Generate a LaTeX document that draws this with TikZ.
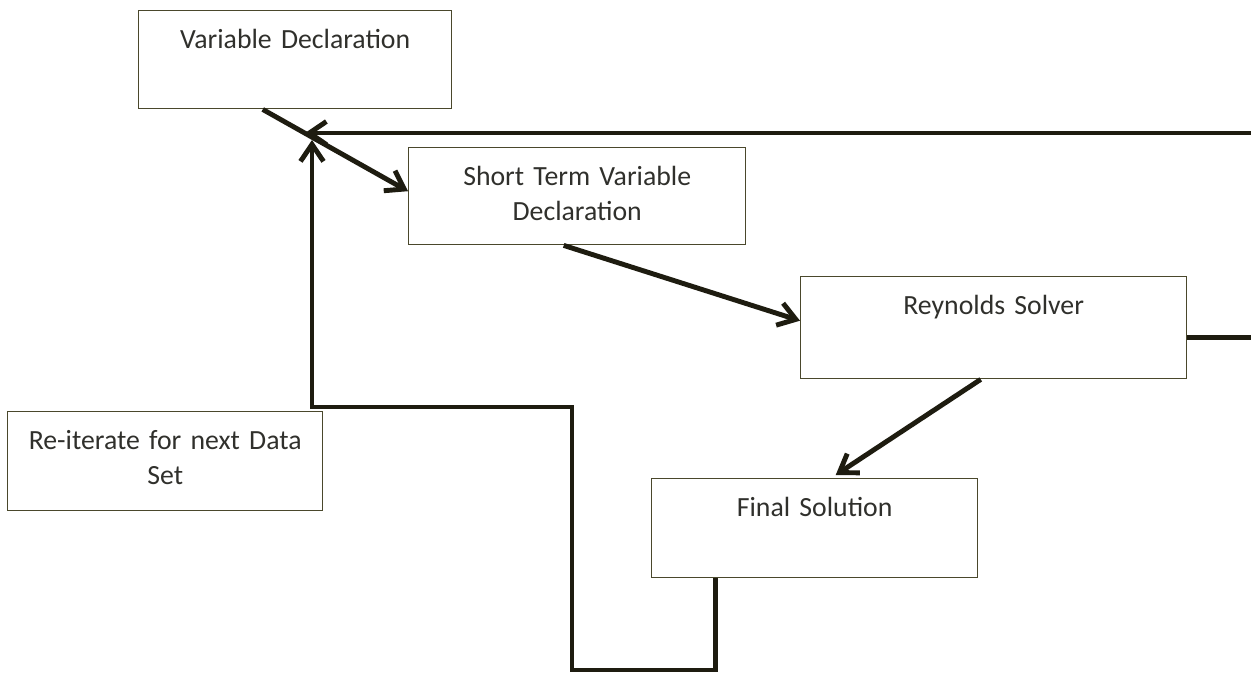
\documentclass[tikz,border=0pt]{standalone}
\usepackage{fontspec}
\setmainfont{Carlito}[WordSpace=0.8]
\usepackage{xcolor}
\usepackage{tikz}
\usetikzlibrary{arrows.meta, positioning, calc}
\definecolor{BoxLine}{RGB}{74, 72, 44}
\definecolor{FlowLine}{RGB}{30, 28, 16}
\definecolor{TextGray}{RGB}{48, 48, 44}

\begin{document}
\begin{tikzpicture}[
    font=\fontsize{15.8}{20}\selectfont,
    box/.style={rectangle, draw=BoxLine, line width=0.8pt, anchor=north west, inner xsep=2pt, inner ysep=0pt, align=center, text=TextGray, text height=0.76cm},
    flow/.style={-{Straight Barb[length=0.34cm, width=0.46cm]}, line width=2.8pt, color=FlowLine},
    feed/.style={line width=2.8pt, color=FlowLine, -{Straight Barb[length=0.34cm, width=0.46cm]}}
]
    \useasboundingbox (0,0) rectangle (25.02,-13.5);
    \clip (0,0) rectangle (25.02,-13.5);

    % Boxes
    \node[box, minimum width=6.26cm, text width=6.1cm, text depth=1.2cm] (vardecl) at (2.76,-0.2) {Variable Declaration};
    \node[box, minimum width=6.74cm, text width=6.5cm, text depth=1.18cm] (shortterm) at (8.16,-2.94) {Short Term Variable\\Declaration};
    \node[box, minimum width=7.72cm, text width=7.5cm, text depth=1.28cm] (reynolds) at (16.0,-5.52) {Reynolds Solver};
    \node[box, minimum width=6.3cm, text width=6.1cm, text depth=1.22cm] (reiterate) at (0.14,-8.22) {Re-iterate for next Data\\Set};
    \node[box, minimum width=6.52cm, text width=6.3cm, text depth=1.22cm] (final) at (13.02,-9.56) {Final Solution};

    % Junction points
    \coordinate (merge) at (6.24,-2.66);
    \coordinate (low) at (11.44,-13.4);
    \coordinate (mid) at (11.44,-8.14);

    % Main chain
    \draw[flow] ([xshift=-0.65cm]vardecl.south) -- ([yshift=0.1cm]shortterm.west);
    \draw[flow] ([xshift=-0.27cm]shortterm.south) -- ([yshift=0.14cm]reynolds.west);
    \draw[flow] ([xshift=-0.26cm]reynolds.south) -- ([xshift=0.42cm, yshift=0.06cm]final.north);

    % Feedback loops
    \draw[feed] ([yshift=-0.2cm]reynolds.east) -- ++(1.6,0) |- ([xshift=-0.14cm]merge);
    \draw[feed] ([xshift=-1.98cm]final.south) |- (low) -- (mid) -| ([yshift=-0.14cm]merge);

\end{tikzpicture}
\end{document}
